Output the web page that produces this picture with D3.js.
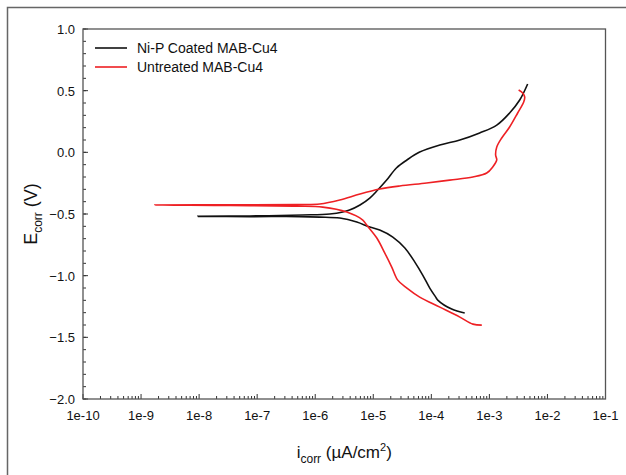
<!doctype html>
<html lang="en">
  <head>
    <title>Polarization curves</title>
    <style>
      body {
        margin: 0;
        background: #fff;
      }
      text {
        font-family: "Liberation Sans", Arial, sans-serif;
        fill: #111;
      }
    </style>
  </head>
  <body>
    <div id="chart"></div>

    <script src="https://cdn.jsdelivr.net/npm/d3@7"></script>
    <script>
      // Ni-P coated MAB-Cu4 : cathodic end -> Ecorr tip -> anodic end
      const coatedI = [3.76e-4, 2.24e-4, 1.29e-4, 1.19e-4, 9.4e-5, 7.1e-5, 5.2e-5, 3.5e-5, 2.17e-5, 1.29e-5,
        8.7e-6, 5.2e-6, 2.65e-6, 1.2e-6, 5.4e-7, 7.5e-8, 9.5e-9,
        7.5e-8, 6.1e-7, 1.78e-6, 2.98e-6, 3.9e-6, 5.9e-6, 8.7e-6, 1.19e-5, 1.7e-5, 2.5e-5, 3.8e-5,
        6.3e-5, 1.4e-4, 3.1e-4, 6.8e-4, 1.34e-3, 2.23e-3, 3.33e-3, 4.56e-3]
      const coatedE = [-1.303, -1.271, -1.198, -1.174, -1.101, -0.995, -0.890, -0.776, -0.687, -0.630,
        -0.606, -0.565, -0.533, -0.525, -0.521, -0.521, -0.519,
        -0.516, -0.508, -0.500, -0.484, -0.468, -0.427, -0.371, -0.306, -0.225, -0.127, -0.062,
        0.002, 0.059, 0.100, 0.157, 0.221, 0.319, 0.424, 0.554]

      // Untreated MAB-Cu4
      const untreatedI = [7.4e-4, 5.2e-4, 3.1e-4, 1.4e-4, 6.3e-5, 3.8e-5, 2.64e-5, 2.08e-5, 1.58e-5, 1.15e-5,
        7.7e-6, 6.6e-6, 3.5e-6, 1.35e-6, 4.8e-7, 3.4e-8, 1.73e-9,
        3.4e-8, 4.8e-7, 1.2e-6, 2.65e-6, 5.9e-6, 1.29e-5, 2.86e-5, 8.3e-5, 2.07e-4, 5.2e-4, 9.0e-4,
        1.14e-3, 1.34e-3, 1.28e-3, 1.34e-3, 1.63e-3, 2.23e-3, 3.07e-3, 3.9e-3, 4.06e-3, 3.74e-3, 3.19e-3]
      const untreatedE = [-1.401, -1.393, -1.336, -1.255, -1.174, -1.101, -1.036, -0.930, -0.817, -0.695,
        -0.590, -0.549, -0.484, -0.444, -0.436, -0.431, -0.427,
        -0.426, -0.423, -0.419, -0.387, -0.338, -0.298, -0.273, -0.249, -0.225, -0.200, -0.168,
        -0.119, -0.062, -0.022, 0.043, 0.116, 0.205, 0.319, 0.408, 0.448, 0.481, 0.505]

      const seriesNames = ['Ni-P Coated MAB-Cu4', 'Untreated MAB-Cu4']
      const seriesColors = ['#111111', '#ee2024']
      const xTickValues = [1e-10, 1e-9, 1e-8, 1e-7, 1e-6, 1e-5, 1e-4, 1e-3, 1e-2, 1e-1]
      const xTickLabels = ['1e-10', '1e-9', '1e-8', '1e-7', '1e-6', '1e-5', '1e-4', '1e-3', '1e-2', '1e-1']
      const yTickValues = [1.0, 0.5, 0.0, -0.5, -1.0, -1.5, -2.0]

      const width = 626
      const height = 475
      const margin = { left: 83, right: 20, top: 29, bottom: 76 }

      const svg = d3.select('#chart')
        .append('svg')
        .attr('width', width)
        .attr('height', height)

      // outer picture frame (right/bottom run off the image)
      svg.append('rect')
        .attr('x', 7.5).attr('y', 7.5)
        .attr('width', 700).attr('height', 600)
        .attr('fill', 'none')
        .attr('stroke', '#666')
        .attr('stroke-width', 1.5)

      const x = d3.scaleLog()
        .domain([1e-10, 1e-1])
        .range([margin.left, width - margin.right - 0.5])
      const y = d3.scaleLinear()
        .domain([-2, 1])
        .range([height - margin.bottom, margin.top])

      // minor x ticks
      const xMinor = []
      xTickValues.slice(0, -1).forEach(v => {
        for (let k = 2; k <= 9; k++) xMinor.push(v * k)
      })
      const yMinor = d3.range(-20, 11).map(d => d / 10)

      const g = svg.append('g')

      g.selectAll('.xminor').data(xMinor).enter().append('line')
        .attr('x1', d => x(d)).attr('x2', d => x(d))
        .attr('y1', y(-2)).attr('y2', y(-2) - 3)
        .attr('stroke', '#333')
      g.selectAll('.xmajor').data(xTickValues).enter().append('line')
        .attr('x1', d => x(d)).attr('x2', d => x(d))
        .attr('y1', y(-2)).attr('y2', y(-2) - 5)
        .attr('stroke', '#333')
      g.selectAll('.yminor').data(yMinor).enter().append('line')
        .attr('x1', x(1e-10)).attr('x2', x(1e-10) + 3)
        .attr('y1', d => y(d)).attr('y2', d => y(d))
        .attr('stroke', '#333')
      g.selectAll('.ymajor').data(yTickValues).enter().append('line')
        .attr('x1', x(1e-10)).attr('x2', x(1e-10) + 5)
        .attr('y1', d => y(d)).attr('y2', d => y(d))
        .attr('stroke', '#333')

      // tick labels
      g.selectAll('.xlab').data(xTickValues).enter().append('text')
        .attr('x', d => x(d))
        .attr('y', y(-2) + 21)
        .attr('text-anchor', 'middle')
        .attr('font-size', 13)
        .text((d, i) => xTickLabels[i])
      g.selectAll('.ylab').data(yTickValues).enter().append('text')
        .attr('x', x(1e-10) - 8)
        .attr('y', d => y(d) + 5)
        .attr('text-anchor', 'end')
        .attr('font-size', 13)
        .text(d => d3.format('.1f')(d))

      // plot frame
      svg.append('rect')
        .attr('x', x(1e-10)).attr('y', y(1))
        .attr('width', x(1e-1) - x(1e-10))
        .attr('height', y(-2) - y(1))
        .attr('fill', 'none')
        .attr('stroke', '#555')
        .attr('stroke-width', 1.3)

      const line = d3.line()
        .x(d => x(d[0]))
        .y(d => y(d[1]))
        .curve(d3.curveCatmullRom.alpha(0.5))

      const series = [
        d3.zip(coatedI, coatedE),
        d3.zip(untreatedI, untreatedE)
      ]

      svg.selectAll('.curve').data(series).enter().append('path')
        .attr('d', line)
        .attr('fill', 'none')
        .attr('stroke', (d, i) => seriesColors[i])
        .attr('stroke-width', 1.6)

      // legend
      const legend = svg.append('g')
      seriesNames.forEach((name, i) => {
        const ly = 48 + i * 19
        legend.append('line')
          .attr('x1', 95).attr('x2', 127)
          .attr('y1', ly).attr('y2', ly)
          .attr('stroke', seriesColors[i])
          .attr('stroke-width', 1.6)
        legend.append('text')
          .attr('x', 137).attr('y', ly + 5)
          .attr('font-size', 14)
          .text(name)
      })

      // axis titles
      svg.append('text')
        .attr('transform', `translate(37, ${(y(1) + y(-2)) / 2}) rotate(-90)`)
        .attr('text-anchor', 'middle')
        .attr('font-size', 18)
        .call(t => {
          t.append('tspan').text('E')
          t.append('tspan').attr('font-size', 12).attr('dy', 5).text('corr')
          t.append('tspan').attr('dy', -5).text(' (V)')
        })

      svg.append('text')
        .attr('x', (x(1e-10) + x(1e-1)) / 2 - 0)
        .attr('y', 458)
        .attr('text-anchor', 'middle')
        .attr('font-size', 17)
        .call(t => {
          t.append('tspan').text('i')
          t.append('tspan').attr('font-size', 12).attr('dy', 5).text('corr')
          t.append('tspan').attr('dy', -5).text(' (µA/cm')
          t.append('tspan').attr('font-size', 11).attr('dy', -7).text('2')
          t.append('tspan').attr('dy', 7).text(')')
        })
    </script>
  </body>
</html>
